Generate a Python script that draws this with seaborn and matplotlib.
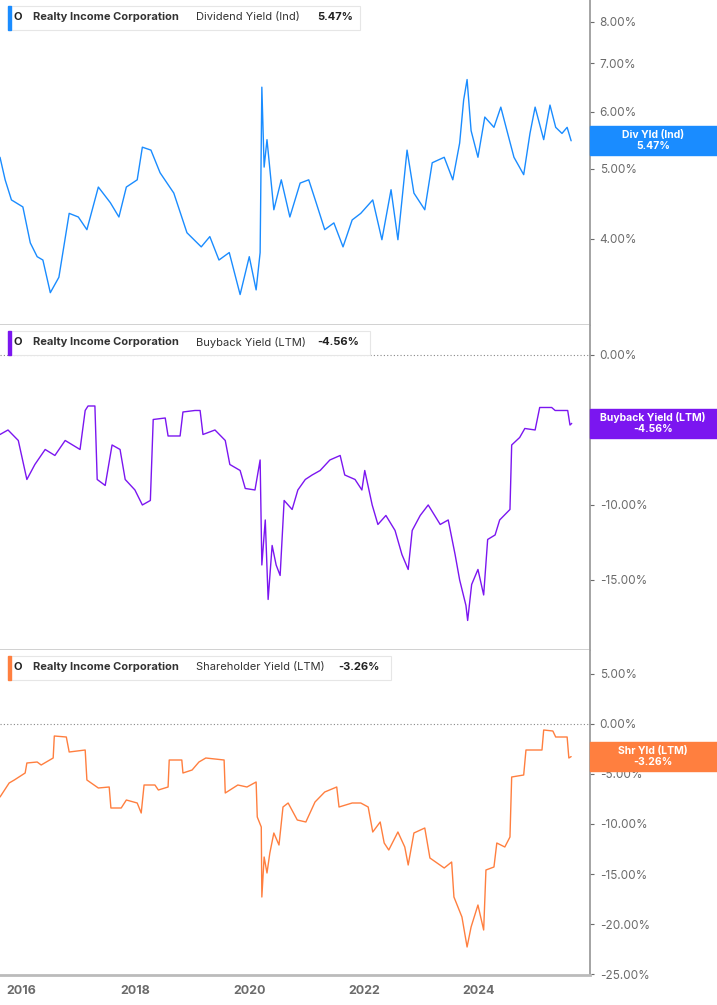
import matplotlib
matplotlib.use("Agg")
import matplotlib.pyplot as plt
import seaborn as sns
import pandas as pd
from matplotlib.patches import Rectangle, FancyBboxPatch
from matplotlib.ticker import FixedLocator, NullLocator

sns.set_theme(style="white")
plt.rcParams["font.family"] = "Inter"

# Dividend yield (Ind), %
div_years = [15.63, 15.72, 15.83, 16.03, 16.16, 16.28, 16.38, 16.51, 16.66, 16.84, 17.0, 17.15,
             17.35, 17.56, 17.71, 17.84, 18.03, 18.12, 18.27, 18.43, 18.67, 18.90, 19.15, 19.30,
             19.46, 19.64, 19.83, 19.99, 20.11, 20.18, 20.21, 20.25, 20.30, 20.42, 20.55, 20.70,
             20.88, 21.03, 21.16, 21.31, 21.47, 21.63, 21.79, 21.94, 22.15, 22.31, 22.47, 22.59,
             22.75, 22.87, 23.06, 23.19, 23.40, 23.55, 23.67, 23.74, 23.80, 23.87, 23.99, 24.11,
             24.27, 24.39, 24.51, 24.62, 24.79, 24.90, 24.99, 25.14, 25.25, 25.35, 25.46, 25.55, 25.62]
div_vals = [5.19, 4.83, 4.53, 4.43, 3.95, 3.78, 3.74, 3.37, 3.54, 4.34, 4.29, 4.12,
            4.72, 4.49, 4.29, 4.72, 4.83, 5.36, 5.31, 4.94, 4.63, 4.08, 3.90, 4.03,
            3.74, 3.83, 3.35, 3.78, 3.40, 3.83, 6.49, 5.03, 5.49, 4.39, 4.83, 4.29,
            4.78, 4.83, 4.49, 4.12, 4.21, 3.90, 4.25, 4.34, 4.53, 3.99, 4.68, 3.99,
            5.31, 4.63, 4.39, 5.10, 5.19, 4.83, 5.43, 6.23, 6.65, 5.65, 5.19, 5.90,
            5.71, 6.09, 5.60, 5.19, 4.91, 5.60, 6.09, 5.49, 6.13, 5.71, 5.60, 5.71, 5.47]

# Buyback yield (LTM), %
bb_years = [15.63, 15.77, 15.95, 16.10, 16.24, 16.42, 16.59, 16.77, 17.03, 17.12, 17.17, 17.29,
            17.33, 17.47, 17.59, 17.73, 17.82, 17.99, 18.12, 18.26, 18.31, 18.52, 18.57, 18.78,
            18.83, 19.04, 19.13, 19.18, 19.39, 19.57, 19.65, 19.83, 19.92, 20.09, 20.18, 20.21,
            20.27, 20.32, 20.39, 20.46, 20.53, 20.60, 20.74, 20.84, 20.97, 21.09, 21.23, 21.40,
            21.58, 21.66, 21.84, 21.96, 22.01, 22.14, 22.24, 22.38, 22.54, 22.66, 22.77, 22.84,
            22.98, 23.12, 23.33, 23.47, 23.59, 23.67, 23.78, 23.81, 23.88, 23.99, 24.09, 24.16,
            24.29, 24.37, 24.55, 24.58, 24.72, 24.81, 24.99, 25.07, 25.28, 25.34, 25.56, 25.60, 25.63]
bb_vals = [-5.3, -5.0, -5.7, -8.3, -7.3, -6.3, -6.7, -5.7, -6.3, -3.7, -3.4, -3.4,
           -8.3, -8.7, -6.0, -6.3, -8.3, -9.0, -10.0, -9.7, -4.3, -4.2, -5.4, -5.4,
           -3.8, -3.7, -3.7, -5.3, -5.0, -5.7, -7.3, -7.7, -8.9, -9.0, -7.0, -14.0,
           -11.0, -16.3, -12.7, -14.0, -14.7, -9.7, -10.3, -9.0, -8.3, -8.0, -7.7, -7.0,
           -6.7, -8.0, -8.3, -9.0, -7.7, -10.0, -11.3, -10.7, -11.7, -13.3, -14.3, -11.7,
           -10.7, -10.0, -11.3, -11.0, -13.3, -15.0, -16.7, -17.7, -15.3, -14.3, -16.0, -12.3,
           -12.0, -11.0, -10.3, -6.0, -5.5, -4.9, -5.0, -3.5, -3.5, -3.7, -3.7, -4.67, -4.56]

# Shareholder yield (LTM), %
sh_years = [15.63, 15.79, 15.88, 16.07, 16.10, 16.28, 16.35, 16.56, 16.58, 16.79, 16.84, 17.12,
            17.15, 17.35, 17.54, 17.57, 17.75, 17.84, 18.03, 18.10, 18.15, 18.34, 18.40, 18.57,
            18.59, 18.81, 18.83, 18.99, 19.11, 19.23, 19.55, 19.57, 19.79, 19.95, 20.11, 20.13,
            20.20, 20.21, 20.25, 20.30, 20.35, 20.42, 20.51, 20.58, 20.67, 20.83, 20.98, 21.14,
            21.31, 21.52, 21.56, 21.79, 21.94, 22.07, 22.15, 22.28, 22.35, 22.43, 22.59, 22.71,
            22.77, 22.87, 23.06, 23.15, 23.40, 23.53, 23.57, 23.71, 23.80, 23.87, 23.99, 24.09,
            24.13, 24.27, 24.32, 24.46, 24.55, 24.58, 24.79, 24.83, 25.11, 25.14, 25.30, 25.35,
            25.55, 25.58, 25.62]
sh_vals = [-7.3, -5.9, -5.6, -4.9, -3.9, -3.8, -4.1, -3.4, -1.2, -1.3, -2.8, -2.6,
           -5.6, -6.4, -6.3, -8.4, -8.4, -7.6, -7.9, -8.9, -6.1, -6.1, -6.6, -6.3,
           -3.6, -3.6, -4.9, -4.6, -3.8, -3.4, -3.6, -6.9, -6.1, -6.3, -5.8, -9.3,
           -10.3, -17.3, -13.3, -14.9, -12.9, -10.9, -12.1, -8.3, -7.9, -9.6, -9.8, -7.8,
           -6.8, -6.3, -8.3, -7.9, -7.9, -8.3, -10.8, -9.8, -11.9, -12.6, -10.8, -12.3,
           -14.1, -10.9, -10.4, -13.4, -14.4, -13.8, -17.3, -19.3, -22.3, -20.3, -18.1, -20.6,
           -14.6, -14.3, -11.9, -12.3, -11.3, -5.3, -5.1, -2.6, -2.6, -0.6, -0.7, -1.3,
           -1.3, -3.4, -3.26]

x_ticks = [2016, 2018, 2020, 2022, 2024]

panels = [
    dict(years=div_years, vals=div_vals, color="#1a8cff", metric="Dividend Yield (Ind)",
         value="5.47%", tag="Div Yld (Ind)\n5.47%", ylim=(3.04, 8.57), log=True,
         ticks=[4, 5, 6, 7, 8], zero=False, box_w=352),
    dict(years=bb_years, vals=bb_vals, color="#7b16f0", metric="Buyback Yield (LTM)",
         value="-4.56%", tag="Buyback Yield (LTM)\n-4.56%", ylim=(-19.67, 2.0), log=False,
         ticks=[0, -10, -15], zero=True, box_w=362),
    dict(years=sh_years, vals=sh_vals, color="#ff7f3f", metric="Shareholder Yield (LTM)",
         value="-3.26%", tag="Shr Yld (LTM)\n-3.26%", ylim=(-25.1, 7.4), log=False,
         ticks=[5, 0, -5, -10, -15, -20, -25], zero=True, box_w=383),
]

W, H = 717, 1005
fig = plt.figure(figsize=(W / 100, H / 100), dpi=100)
gray = "#6b6b6b"

for i, p in enumerate(panels):
    top = i * 325
    ax = fig.add_axes([0, 1 - (top + 325) / H, 590 / W, 325 / H])
    df = pd.DataFrame({"year": [2000 + y for y in p["years"]], "val": p["vals"]})
    if p["log"]:
        ax.set_yscale("log")
    sns.lineplot(data=df, x="year", y="val", ax=ax, color=p["color"], linewidth=1.0)
    ax.set_xlim(2015.63, 2025.95)
    ax.set_ylim(*p["ylim"])
    ax.yaxis.set_major_locator(FixedLocator(p["ticks"]))
    ax.yaxis.set_minor_locator(NullLocator())
    ax.set_yticklabels([f"{t:.2f}%" for t in p["ticks"]])
    ax.yaxis.tick_right()
    ax.tick_params(axis="y", colors=gray, labelsize=8.5, length=3, width=0.8, pad=4)
    ax.set_xlabel("")
    ax.set_ylabel("")
    for s in ["top", "left"]:
        ax.spines[s].set_visible(False)
    ax.spines["right"].set_color("#999999")
    ax.spines["bottom"].set_color("#cccccc")
    if p["zero"]:
        ax.axhline(0, color="#888888", linestyle=(0, (1, 2)), linewidth=0.8)
    if i < 2:
        ax.set_xticks([])
    else:
        ax.set_xticks(x_ticks)
        ax.set_xticklabels([str(t) for t in x_ticks], fontweight="bold")
        ax.tick_params(axis="x", colors=gray, labelsize=9, length=4, width=0.8)
        ax.spines["bottom"].set_color("#bbbbbb")
        ax.spines["bottom"].set_linewidth(2)

    # tag on right
    fy = ax.transAxes.inverted().transform(ax.transData.transform((2020, p["vals"][-1])))[1]
    hh = 29 / 325
    ax.add_patch(Rectangle((1.0, fy - hh / 2), 127 / 590, hh, transform=ax.transAxes,
                           color=p["color"], clip_on=False, zorder=5))
    ax.text(1.0 + 63 / 590, fy, p["tag"], transform=ax.transAxes, ha="center", va="center",
            color="white", fontsize=7.5, fontweight="bold", linespacing=1.1, zorder=6)

    # legend box
    bx, by = 8 / W, 1 - (top + 30) / H
    fig.patches.append(FancyBboxPatch((bx, by), p["box_w"] / W, 24 / H,
                                      boxstyle="square,pad=0", transform=fig.transFigure,
                                      facecolor="white", edgecolor="#e6e6e6", linewidth=0.8))
    fig.patches.append(Rectangle((bx, by), 3 / W, 24 / H, transform=fig.transFigure,
                                 color=p["color"]))
    ty = 1 - (top + 17) / H
    fig.text(14 / W, ty, "O", fontsize=8, fontweight="bold", va="center", color="#222222")
    fig.text(33 / W, ty, "Realty Income Corporation", fontsize=8, fontweight="bold",
             va="center", color="#333333")
    fig.text(196 / W, ty, p["metric"], fontsize=8, va="center", color="#333333")
    vx = (196 + (121 if i < 2 else 142)) / W
    fig.text(vx, ty, p["value"], fontsize=8, fontweight="bold", va="center", color="#222222")

fig.savefig("out.png", dpi=100)
